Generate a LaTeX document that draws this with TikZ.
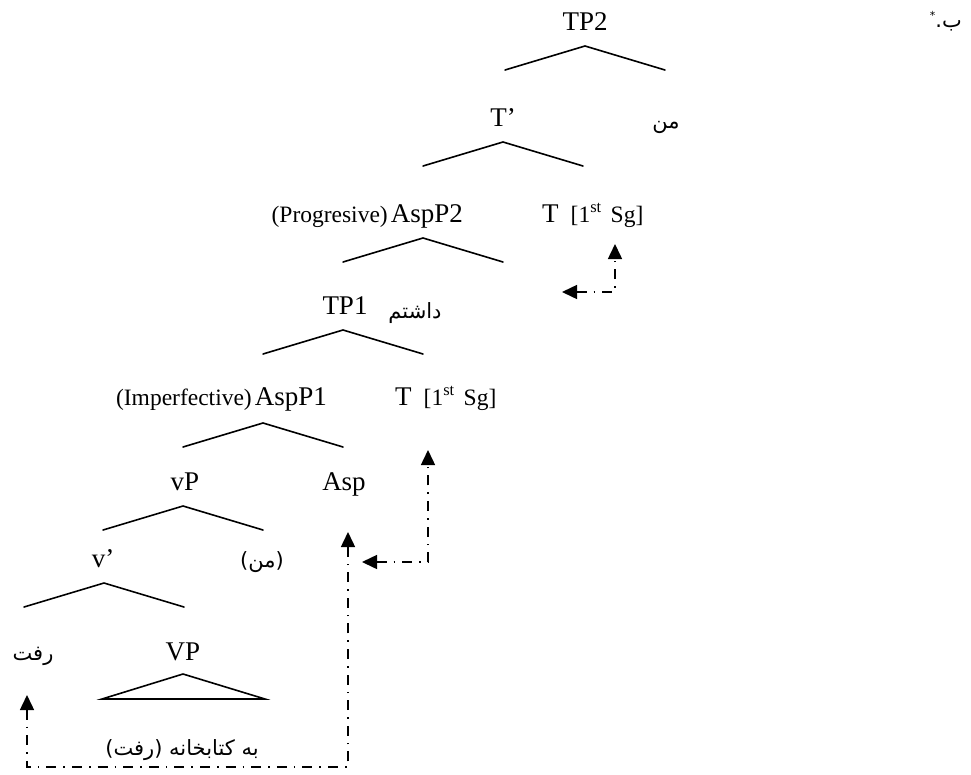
\documentclass[tikz,border=0pt]{standalone}
\usepackage{fontspec}
\setmainfont{Liberation Serif}
\newfontfamily\arabicfont[Script=Arabic]{DejaVu Sans}
\TeXXeTstate=1
\usetikzlibrary{arrows.meta}

% one branch: apex plus two feet, 80 apart sideways, 24 down
\newcommand\treebranch[3]{%
  \coordinate (#1a) at (#2,#3);
  \coordinate (#1l) at (#2-80,#3+24);
  \coordinate (#1r) at (#2+80,#3+24);
  \draw[branch] (#1l) -- (#1a) -- (#1r);}

\newcommand\smallfont{\fontsize{23.5}{26}\selectfont}
\newcommand\tfeat{T\hspace{12pt}{\smallfont[1\textsuperscript{st}\hspace{9pt}Sg]}}

\tikzset{
  lab/.style={inner sep=0pt, anchor=base, font=\fontsize{27}{30}\selectfont},
  fa/.style={inner sep=0pt, anchor=base, font=\arabicfont\fontsize{21}{26}\selectfont},
  branch/.style={line width=1.6pt, line cap=round},
  move/.style={line width=1.5pt, dash pattern=on 10pt off 7pt on 1.6pt off 7pt,
    {Triangle[length=15pt,width=14pt]}-{Triangle[length=15pt,width=14pt]}},
}

\begin{document}
\begin{tikzpicture}[x=1pt,y=-1pt]
\useasboundingbox (0,0) rectangle (971,774);

% example mark
\node[fa, anchor=base east] (mark) at (962,27) {\beginR ب.\raisebox{8pt}{\fontsize{11}{12}\selectfont *}\endR};

% TP2
\node[lab] (tp2) at (585,30) {TP2};
\treebranch{b0}{585}{46}
\node[lab] (tbar) at (503,126) {T’};
\node[fa] (subj) at (666,128) {\beginR من\endR};

% T'
\treebranch{b1}{503}{142}
\node[lab, anchor=base east] (asp2) at (463,222) {{\smallfont(Progresive)}\hspace{3pt}AspP2};
\node[lab, anchor=base west] (t2) at (542,222) {\tfeat};

% AspP2
\treebranch{b2}{423}{238}
\node[lab] (tp1) at (345,314) {TP1};
\node[fa] (dasht) at (415,318) {\beginR داشتم\endR};

% TP1
\treebranch{b3}{343}{330}
\node[lab, anchor=base east] (asp1) at (327,405) {{\smallfont(Imperfective)}\hspace{3pt}AspP1};
\node[lab, anchor=base west] (t1) at (395,405) {\tfeat};

% AspP1
\treebranch{b4}{263}{423}
\node[lab] (vp) at (185,490) {vP};
\node[lab] (asp) at (344,490) {Asp};

% vP
\treebranch{b5}{183}{506}
\node[lab] (vbar) at (103,567) {v’};
\node[fa] (pro) at (262,567) {\beginR(من)\endR};

% v'
\treebranch{b6}{104}{583}
\node[fa] (raft) at (33,660) {\beginR رفت\endR};
\node[lab] (bigvp) at (183,660) {VP};

% VP triangle and its contents
\coordinate (tria) at (183,674);
\coordinate (tril) at (102,699);
\coordinate (trir) at (265,699);
\draw[branch, line join=miter] (tria) -- (tril) -- (trir) -- cycle;
\node[fa] (obj) at (182,755) {\beginR به کتابخانه (رفت)\endR};

% head movement paths
\coordinate (m1s) at (27,695);
\coordinate (m1e) at (348,532);
\coordinate (m1c) at (27,767);
\draw[move] (m1s) -- (m1c) -| (m1e);

\coordinate (m2s) at (362,562);
\coordinate (m2e) at (428,450);
\draw[move] (m2s) -| (m2e);

\coordinate (m3s) at (562,292);
\coordinate (m3e) at (615,244);
\draw[move] (m3s) -| (m3e);
\end{tikzpicture}
\end{document}
